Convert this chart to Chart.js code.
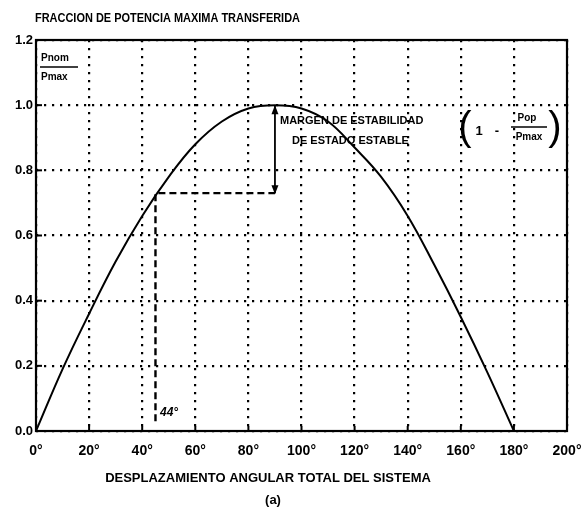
<!DOCTYPE html>
<html>
<head>
<meta charset="utf-8">
<script src="https://cdn.jsdelivr.net/npm/chart.js@4.4.1/dist/chart.umd.min.js"></script>
<style>
  html, body { margin: 0; padding: 0; background: #fff; }
  #wrap { width: 585px; height: 515px; }
</style>
</head>
<body>
<div id="wrap"><canvas id="c" width="585" height="515"></canvas></div>
<script>
// Courbe P/Pmax (tous les 10 degrés)
const angles   = [0, 10, 20, 30, 40, 50, 60, 70, 80, 90, 100, 110, 120, 130, 140, 150, 160, 170, 180];
const fraction = [0, 0.19, 0.36, 0.52, 0.66, 0.78, 0.88, 0.95, 0.99, 1.0, 0.99, 0.95, 0.87, 0.78, 0.66, 0.51, 0.35, 0.18, 0];

// Point de fonctionnement (44°) et marge de stabilité
const opLineX  = [45, 45, 90];
const opLineY  = [0.03, 0.73, 0.73];
const marginX  = [90, 90];
const marginY  = [0.73, 1.0];

// Graduations
const xTicks = [0, 20, 40, 60, 80, 100, 120, 140, 160, 180, 200];
const yTicks = [0, 0.2, 0.4, 0.6, 0.8, 1.0, 1.2];

const FONT = "'Liberation Sans', Arial, sans-serif";
const pts = (xs, ys) => xs.map((x, i) => ({ x, y: ys[i] }));

// Cadre, petites graduations internes, flèches et textes
const decor = {
  id: 'decor',
  afterDatasetsDraw(chart) {
    const { ctx, chartArea: a, scales: { x, y } } = chart;
    ctx.save();
    ctx.strokeStyle = '#000';
    ctx.fillStyle = '#000';

    // cadre
    ctx.lineWidth = 2.2;
    ctx.strokeRect(a.left, a.top, a.right - a.left, a.bottom - a.top);

    // graduations internes
    ctx.lineWidth = 2;
    yTicks.forEach(v => {
      const py = y.getPixelForValue(v);
      ctx.beginPath(); ctx.moveTo(a.left, py); ctx.lineTo(a.left + 6, py); ctx.stroke();
    });
    xTicks.forEach(v => {
      const px = x.getPixelForValue(v);
      ctx.beginPath(); ctx.moveTo(px, a.bottom); ctx.lineTo(px, a.bottom - 5); ctx.stroke();
    });

    // pointes de flèche de la marge
    const ax = x.getPixelForValue(marginX[0]);
    const top = y.getPixelForValue(marginY[1]);
    const bot = y.getPixelForValue(marginY[0]);
    ctx.beginPath();
    ctx.moveTo(ax, top); ctx.lineTo(ax - 3.5, top + 9); ctx.lineTo(ax + 3.5, top + 9); ctx.closePath();
    ctx.fill();
    ctx.beginPath();
    ctx.moveTo(ax, bot + 1); ctx.lineTo(ax - 3.5, bot - 8); ctx.lineTo(ax + 3.5, bot - 8); ctx.closePath();
    ctx.fill();

    ctx.textBaseline = 'middle';

    // titre
    ctx.textAlign = 'left';
    ctx.font = 'bold 13px ' + FONT;
    ctx.fillText('FRACCION DE POTENCIA MAXIMA TRANSFERIDA', 35, 18, 265);

    // Pnom / Pmax
    ctx.font = 'bold 10px ' + FONT;
    ctx.fillText('Pnom', 41, 58, 30);
    ctx.fillText('Pmax', 41, 77, 30);
    ctx.lineWidth = 1.6;
    ctx.beginPath(); ctx.moveTo(40, 67); ctx.lineTo(78, 67); ctx.stroke();

    // marge de stabilité
    ctx.font = 'bold 11px ' + FONT;
    ctx.fillText('MARGEN DE ESTABILIDAD', 280, 121, 171);
    ctx.fillText('DE ESTADO ESTABLE', 292, 141, 148);

    // (1 - Pop/Pmax)
    ctx.font = '300 40px ' + FONT;
    ctx.textAlign = 'center';
    ctx.fillText('(', 465, 129);
    ctx.fillText(')', 555, 129);
    ctx.font = 'bold 13px ' + FONT;
    ctx.fillText('1', 479, 131);
    ctx.fillText('-', 497, 131);
    ctx.font = 'bold 10px ' + FONT;
    ctx.fillText('Pop', 527, 118, 24);
    ctx.fillText('Pmax', 529, 137, 32);
    ctx.lineWidth = 1.6;
    ctx.beginPath(); ctx.moveTo(511, 127); ctx.lineTo(547, 127); ctx.stroke();

    // 44°
    ctx.textAlign = 'left';
    ctx.font = 'italic bold 12px ' + FONT;
    ctx.fillText('44°', 160, 413);

    // titre de l'axe x
    ctx.textAlign = 'center';
    ctx.font = 'bold 13px ' + FONT;
    ctx.fillText('DESPLAZAMIENTO ANGULAR TOTAL DEL SISTEMA', 268, 478, 375);
    ctx.fillText('(a)', 273, 500);
    ctx.restore();
  }
};

new Chart(document.getElementById('c'), {
  type: 'line',
  data: {
    datasets: [
      {
        label: 'P/Pmax',
        data: pts(angles, fraction),
        borderColor: '#000',
        borderWidth: 2,
        pointRadius: 0,
        tension: 0.4
      },
      {
        label: 'operacion',
        data: pts(opLineX, opLineY),
        borderColor: '#000',
        borderWidth: 2.4,
        borderDash: [7, 4],
        pointRadius: 0,
        tension: 0
      },
      {
        label: 'margen',
        data: pts(marginX, marginY),
        borderColor: '#000',
        borderWidth: 1.8,
        pointRadius: 0,
        tension: 0
      }
    ]
  },
  options: {
    responsive: false,
    animation: false,
    layout: { padding: { left: 0, right: 18, top: 40, bottom: 0 } },
    plugins: { legend: { display: false }, tooltip: { enabled: false } },
    scales: {
      x: {
        type: 'linear',
        min: 0, max: 200,
        afterBuildTicks: s => { s.ticks = xTicks.map(v => ({ value: v })); },
        afterFit: s => { s.height = 84; s.paddingLeft = 2; s.paddingRight = 2; },
        grid: { color: '#000', lineWidth: 2.2, drawTicks: false },
        border: { display: false, dash: [2.2, 5.8] },
        ticks: {
          color: '#000', padding: 12, maxRotation: 0,
          font: { family: FONT, size: 14, weight: 'bold' },
          callback: v => v + '°'
        }
      },
      y: {
        min: 0, max: 1.2,
        afterBuildTicks: s => { s.ticks = yTicks.map(v => ({ value: v })); },
        afterFit: s => { s.width = 36; },
        grid: { color: '#000', lineWidth: 2.2, drawTicks: false },
        border: { display: false, dash: [2.2, 5.8] },
        ticks: {
          color: '#000', padding: 3,
          font: { family: FONT, size: 13, weight: 'bold' },
          callback: v => v.toFixed(1)
        }
      }
    }
  },
  plugins: [decor]
});
</script>
</body>
</html>
